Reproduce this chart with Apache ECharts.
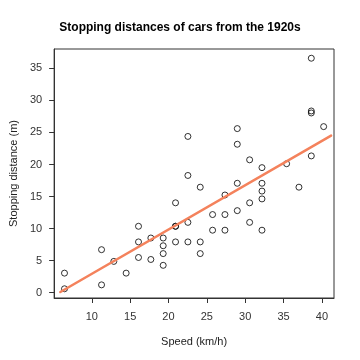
<!DOCTYPE html>
<html>
<head>
<meta charset="utf-8">
<script src="https://cdn.jsdelivr.net/npm/echarts@6/dist/echarts.min.js"></script>
<style>html,body{margin:0;padding:0;background:#fff}#c{width:360px;height:360px}</style>
</head>
<body>
<div id="c"></div>
<script>
const speedKmh = [6.44,6.44,11.27,11.27,12.87,14.48,16.09,16.09,16.09,17.70,17.70,19.31,19.31,19.31,19.31,20.92,20.92,20.92,20.92,22.53,22.53,22.53,22.53,24.14,24.14,24.14,25.75,25.75,27.36,27.36,27.36,28.97,28.97,28.97,28.97,30.58,30.58,30.58,32.19,32.19,32.19,32.19,32.19,35.40,37.01,38.62,38.62,38.62,38.62,40.23];
const distM = [0.61,3.05,1.22,6.71,4.88,3.05,5.49,7.92,10.36,5.18,8.53,4.27,6.10,7.32,8.53,7.92,10.36,10.36,14.02,7.92,10.97,18.29,24.38,6.10,7.92,16.46,9.75,12.19,9.75,12.19,15.24,12.80,17.07,23.16,25.60,10.97,14.02,20.73,9.75,14.63,15.85,17.07,19.51,20.12,16.46,21.34,28.04,28.35,36.58,25.91];
const fitX = [5.9, 41.2];
const fitY = [0.1, 24.5];
const xTicks = [10,15,20,25,30,35,40];
const yTicks = [0,5,10,15,20,25,30,35];

const font = 'Liberation Sans, Arial, Helvetica, sans-serif';
const chart = echarts.init(document.getElementById('c'), null, {renderer:'canvas'});
chart.setOption({
  animation:false,
  backgroundColor:'#fff',
  title:{text:'Stopping distances of cars from the 1920s',left:'center',top:17,
    textStyle:{fontFamily:font,fontSize:12,fontWeight:'bold',color:'#000'}},
  grid:{left:49,right:26,top:49,bottom:62,show:true,borderColor:'#333',borderWidth:1,backgroundColor:'transparent'},
  xAxis:{type:'value',min:5.09,max:41.58,
    name:'Speed (km/h)',nameLocation:'middle',nameGap:38,
    nameTextStyle:{fontFamily:font,fontSize:11,color:'#222'},
    axisLine:{show:true,onZero:false,lineStyle:{color:'#333',width:1}},
    axisTick:{show:true,length:5,inside:false,customValues:xTicks,lineStyle:{color:'#333'}},
    axisLabel:{customValues:xTicks,margin:13,fontFamily:font,fontSize:11,color:'#333'},
    splitLine:{show:false}},
  yAxis:{type:'value',min:-0.83,max:38.02,
    name:'Stopping distance (m)',nameLocation:'middle',nameGap:34,nameRotate:90,
    nameTextStyle:{fontFamily:font,fontSize:11,color:'#222'},
    axisLine:{show:true,onZero:false,lineStyle:{color:'#333',width:1}},
    axisTick:{show:true,length:5,inside:false,customValues:yTicks,lineStyle:{color:'#333'}},
    axisLabel:{customValues:yTicks,margin:12,fontFamily:font,fontSize:11,color:'#333'},
    splitLine:{show:false}},
  series:[
    {type:'scatter',data:speedKmh.map((s,i)=>[s,distM[i]]),symbol:'circle',symbolSize:6,
      itemStyle:{color:'rgba(255,255,255,0)',borderColor:'#000',borderWidth:1},z:2},
    {type:'line',data:fitX.map((x,i)=>[x,fitY[i]]),symbol:'none',
      lineStyle:{color:'#F4825C',width:2.5,cap:'round'},z:3}
  ]
});
</script>
</body>
</html>
